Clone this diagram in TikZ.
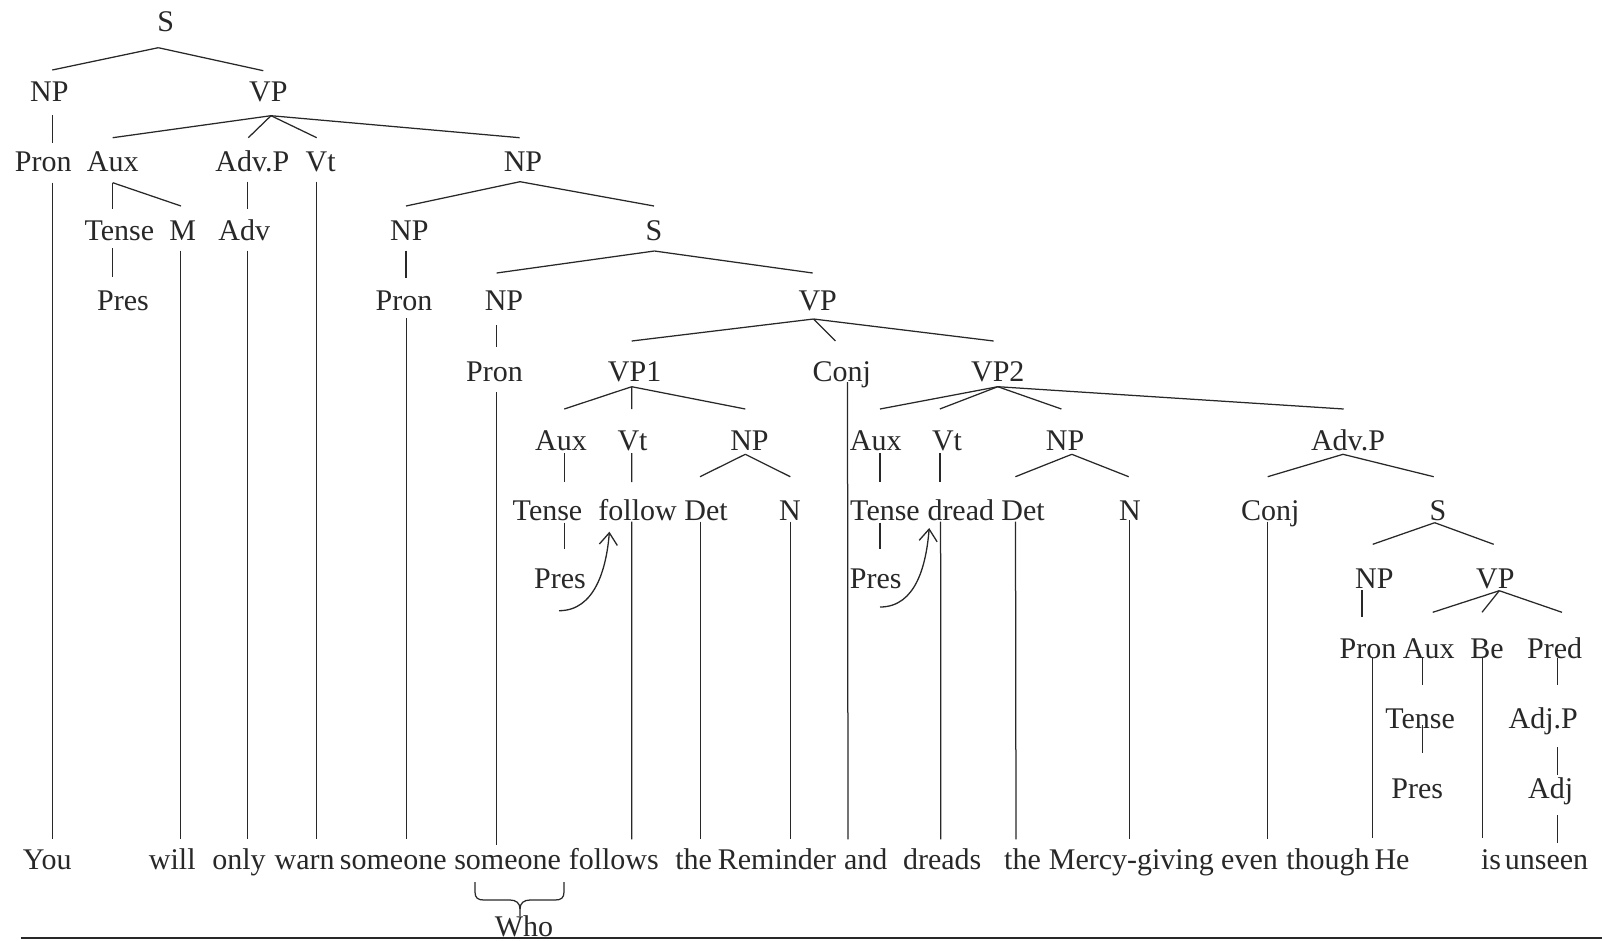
\documentclass[tikz,border=0pt]{standalone}
\usepackage{fontspec}
\setmainfont{Liberation Serif}
\usetikzlibrary{arrows.meta}
\definecolor{ink}{RGB}{40,40,40}
\newcommand\treefont{\fontsize{30}{36}\selectfont}
% branch from a parent node to a child node:
% #2,#3 = x offset / drop below the parent's centre, #5,#6 = x offset / rise above the child's centre
\newcommand\tconn[6]{\draw ([xshift=#2pt,yshift=-#3pt]#1.center) -- ([xshift=#5pt,yshift=#6pt]#4.center);}
\begin{document}
\begin{tikzpicture}[x=1pt,y=-1pt,
  lab/.style={inner sep=0pt,text height=20pt,text depth=0pt,font=\treefont,text=ink},
  arr/.style={-{Straight Barb[length=12pt,width=18pt]},line width=1.3pt}]
\fill[white] (0,0) rectangle (1602,940);
\useasboundingbox (0,0) rectangle (1602,940);

% ---------- category labels, row by row ----------
\node[lab] (s0) at (165.7,21.7) {S};

\node[lab] (np1) at (49.3,91.7) {NP};
\node[lab] (vp1) at (268.3,91.7) {VP};

\node[lab] (pron2) at (43.3,161.7) {Pron};
\node[lab] (aux2) at (112.7,161.7) {Aux};
\node[lab] (advp2) at (252.3,161.7) {Adv.P};
\node[lab] (vt2) at (320.7,161.7) {Vt};
\node[lab] (np2) at (523,161.7) {NP};

\node[lab] (tense3) at (119.3,230) {Tense};
\node[lab] (m3) at (182.7,230) {M};
\node[lab] (adv3) at (244.3,230) {Adv};
\node[lab] (np3) at (409.3,230) {NP};
\node[lab] (s3) at (654,230) {S};

\node[lab] (pres4) at (123,300) {Pres};
\node[lab] (pron4) at (404,300) {Pron};
\node[lab] (np4) at (504,300) {NP};
\node[lab] (vp4) at (817.7,300) {VP};

\node[lab] (pron5) at (494.5,371.7) {Pron};
\node[lab] (vpa5) at (634.6,371.7) {VP1};
\node[lab] (conj5) at (841.7,371.7) {Conj};
\node[lab] (vpb5) at (997.8,371.7) {VP2};

\node[lab] (auxa6) at (561,440) {Aux};
\node[lab] (vta6) at (632.5,440) {Vt};
\node[lab] (npa6) at (749.5,440) {NP};
\node[lab] (auxb6) at (875.8,440) {Aux};
\node[lab] (vtb6) at (947,440) {Vt};
\node[lab] (npb6) at (1065,440) {NP};
\node[lab] (advp6) at (1348,440) {Adv.P};

\node[lab] (tensea7) at (547.5,510) {Tense};
\node[lab] (follow7) at (637.6,510) {follow};
\node[lab] (deta7) at (706,510) {Det};
\node[lab] (na7) at (790,510) {N};
\node[lab] (tenseb7) at (885,510) {Tense};
\node[lab] (dread7) at (960.8,510) {dread};
\node[lab] (detb7) at (1023,510) {Det};
\node[lab] (nb7) at (1130,510) {N};
\node[lab] (conj7) at (1270.3,510) {Conj};
\node[lab] (s7) at (1438,510) {S};

\node[lab] (presa8) at (560,578.3) {Pres};
\node[lab] (presb8) at (875.8,578.3) {Pres};
\node[lab] (np8) at (1374.3,578.3) {NP};
\node[lab] (vp8) at (1495.3,578.3) {VP};

\node[lab] (pron9) at (1368,648.3) {Pron};
\node[lab] (aux9) at (1428.7,648.3) {Aux};
\node[lab] (be9) at (1487,648.3) {Be};
\node[lab] (pred9) at (1554.7,648.3) {Pred};

\node[lab] (tense10) at (1420,718) {Tense};
\node[lab] (adjp10) at (1543.3,718) {Adj.P};

\node[lab] (pres11) at (1417.3,788) {Pres};
\node[lab] (adj11) at (1550.7,788) {Adj};

% ---------- the sentence ----------
\node[lab] (w1) at (47.2,859.7) {You};
\node[lab] (w2) at (172.3,859.7) {will};
\node[lab] (w3) at (239,859.7) {only};
\node[lab] (w4) at (304.7,859.7) {warn};
\node[lab] (w5) at (393.3,859.7) {someone};
\node[lab] (w6) at (507.6,859.7) {someone};
\node[lab] (w7) at (613.8,859.7) {follows};
\node[lab] (w8) at (693.7,859.7) {the};
\node[lab] (w9) at (777,859.7) {Reminder};
\node[lab] (w10) at (865.8,859.7) {and};
\node[lab] (w11) at (942.2,859.7) {dreads};
\node[lab] (w12) at (1022.5,859.7) {the};
\node[lab] (w13) at (1131.3,859.7) {Mercy-giving};
\node[lab] (w14) at (1249.5,859.7) {even};
\node[lab] (w15) at (1328,859.7) {though};
\node[lab] (w16) at (1392,859.7) {He};
\node[lab] (w17) at (1491,859.7) {is};
\node[lab] (w18) at (1546.5,859.7) {unseen};

\node[lab] (who) at (524,926.5) {Who};

% ---------- branches ----------
\begin{scope}[ink,line width=1.25pt]
\tconn{s0}{-7.4}{26}{np1}{3}{21.7}
\tconn{s0}{-7.4}{26}{vp1}{-5}{21}
\tconn{np1}{3}{23.3}{pron2}{9}{18.4}
\tconn{vp1}{2.7}{24}{aux2}{0}{24}
\tconn{vp1}{2.7}{24}{advp2}{-4}{24}
\tconn{vp1}{2.7}{24}{vt2}{-4}{24}
\tconn{vp1}{2.7}{24}{np2}{-3.4}{24}
\tconn{pron2}{9}{21}{w1}{5.1}{20.4}
\tconn{aux2}{0}{21}{tense3}{-6.6}{20.7}
\tconn{aux2}{0}{21}{m3}{-1.7}{24}
\tconn{advp2}{-4.6}{20}{adv3}{3.4}{20.7}
\tconn{vt2}{-4.5}{20}{w4}{11.5}{20.4}
\tconn{np2}{-3}{20}{np3}{-3.3}{24}
\tconn{np2}{-3}{20}{s3}{0}{24}
\tconn{tense3}{-6.6}{18.3}{pres4}{-10.3}{23.3}
\tconn{m3}{-2}{20.7}{w2}{8.4}{20.4}
\tconn{adv3}{3.4}{20.7}{w3}{8.7}{20.4}
\tconn{np3}{-3.3}{20.7}{pron4}{2}{21.7}
\tconn{pron4}{2.5}{18}{w5}{13.2}{20.4}
\tconn{s3}{0.4}{21}{np4}{-7.4}{27}
\tconn{s3}{0.4}{21}{vp4}{-5}{27}
\tconn{np4}{-7.4}{25}{pron5}{2.1}{24.7}
\tconn{pron5}{2.1}{20.3}{w6}{-11}{14.7}
\tconn{vp4}{-4.2}{19}{vpa5}{-2.9}{30.7}
\tconn{vp4}{-4.2}{19}{conj5}{-6.3}{30.7}
\tconn{vp4}{-4.2}{19}{vpb5}{-4.2}{30.7}
\tconn{conj5}{5.8}{10.3}{w10}{-17.8}{20.4}
\tconn{vpa5}{-2.9}{15}{auxa6}{3.3}{31}
\tconn{vpa5}{-2.9}{15}{vta6}{-0.8}{31}
\tconn{vpa5}{-2.9}{15}{npa6}{-4.2}{31}
\tconn{vpb5}{0}{15}{auxb6}{4.2}{31}
\tconn{vpb5}{0}{15}{vtb6}{-7.2}{31}
\tconn{vpb5}{0}{15}{npb6}{-3.6}{31}
\tconn{vpb5}{0}{15}{advp6}{-4.3}{31}
\tconn{auxa6}{3.3}{13}{tensea7}{16.8}{28}
\tconn{vta6}{-0.8}{13}{follow7}{-5.9}{28}
\tconn{npa6}{-4.2}{14.3}{deta7}{-6}{33.3}
\tconn{npa6}{-4.2}{14.3}{na7}{0.3}{33.3}
\tconn{auxb6}{4.2}{13}{tenseb7}{-5}{28}
\tconn{vtb6}{-7}{13}{dread7}{-20.8}{28}
\tconn{npb6}{6.8}{14.3}{detb7}{-7.6}{33.3}
\tconn{npb6}{6.8}{14.3}{nb7}{-1.3}{33.3}
\tconn{advp6}{-5}{14.3}{conj7}{-2.6}{33.3}
\tconn{advp6}{-5}{14.3}{s7}{-4.3}{33.3}
\tconn{tensea7}{16.8}{12.7}{presa8}{4.3}{29.3}
\tconn{follow7}{-5.9}{11.7}{w7}{17.9}{20.4}
\tconn{deta7}{-5.5}{11.7}{w8}{6.8}{20.4}
\tconn{na7}{0.3}{11.7}{w9}{13.3}{20.4}
\tconn{tenseb7}{-5}{12.7}{presb8}{4.2}{29.3}
\tconn{dread7}{-20.2}{11.7}{w11}{-1.5}{20.4}
\tconn{detb7}{-7.5}{11.7}{w12}{-6.5}{20.4}
\tconn{nb7}{-0.5}{10}{w13}{-1.8}{20.4}
\tconn{conj7}{-2.6}{11.7}{w14}{18.2}{20.4}
\tconn{s7}{-3.3}{12.7}{np8}{-1.6}{34}
\tconn{s7}{-3.3}{12.7}{vp8}{-1.6}{34}
\tconn{np8}{-12.3}{11.7}{pron9}{-6}{31}
\tconn{vp8}{4}{12.4}{aux9}{4}{36}
\tconn{vp8}{4}{12.4}{be9}{-5}{36}
\tconn{vp8}{4}{12.4}{pred9}{7.3}{36}
\tconn{pron9}{4.7}{9.7}{w16}{-19.3}{21.7}
\tconn{aux9}{-6}{9.7}{tense10}{2.7}{33}
\tconn{be9}{-4.7}{9.7}{w17}{-8.7}{21.7}
\tconn{pred9}{3}{9.7}{adjp10}{14.4}{33}
\tconn{tense10}{2.7}{7}{pres11}{5.4}{35}
\tconn{adjp10}{14.4}{29}{adj11}{7}{13}
\tconn{adj11}{7}{27}{w18}{11.2}{16.4}

% tense hopping onto the verb
\draw[arr] ([xshift=-1pt,yshift=-32.4pt]presa8.center)
  .. controls +(36,0) and +(-3,37) .. ([xshift=-28.2pt,yshift=-21.7pt]follow7.center);
\draw[arr] ([xshift=4.2pt,yshift=-28.7pt]presb8.center)
  .. controls +(36,0) and +(-3,37) .. ([xshift=-31.6pt,yshift=-18pt]dread7.center);

% brace under the second "someone"
\draw ([xshift=-32.6pt,yshift=-22.3pt]w6.center) -- ++(0,10)
  .. controls +(0,6) and +(-6,0) .. ++(9,8) -- ++(26,0)
  .. controls +(6,0) and +(0,-6) .. ++(10,9) -- ++(0,7);
\draw ([xshift=56.4pt,yshift=-22.3pt]w6.center) -- ++(0,10)
  .. controls +(0,6) and +(6,0) .. ++(-9,8) -- ++(-25,0)
  .. controls +(-6,0) and +(0,-6) .. ++(-10,9);
\end{scope}

% rule along the foot
\coordinate (rulel) at (20.5,938.2);
\coordinate (ruler) at (1602,938.2);
\draw[ink,line width=2.4pt] (rulel) -- (ruler);
\end{tikzpicture}
\end{document}
